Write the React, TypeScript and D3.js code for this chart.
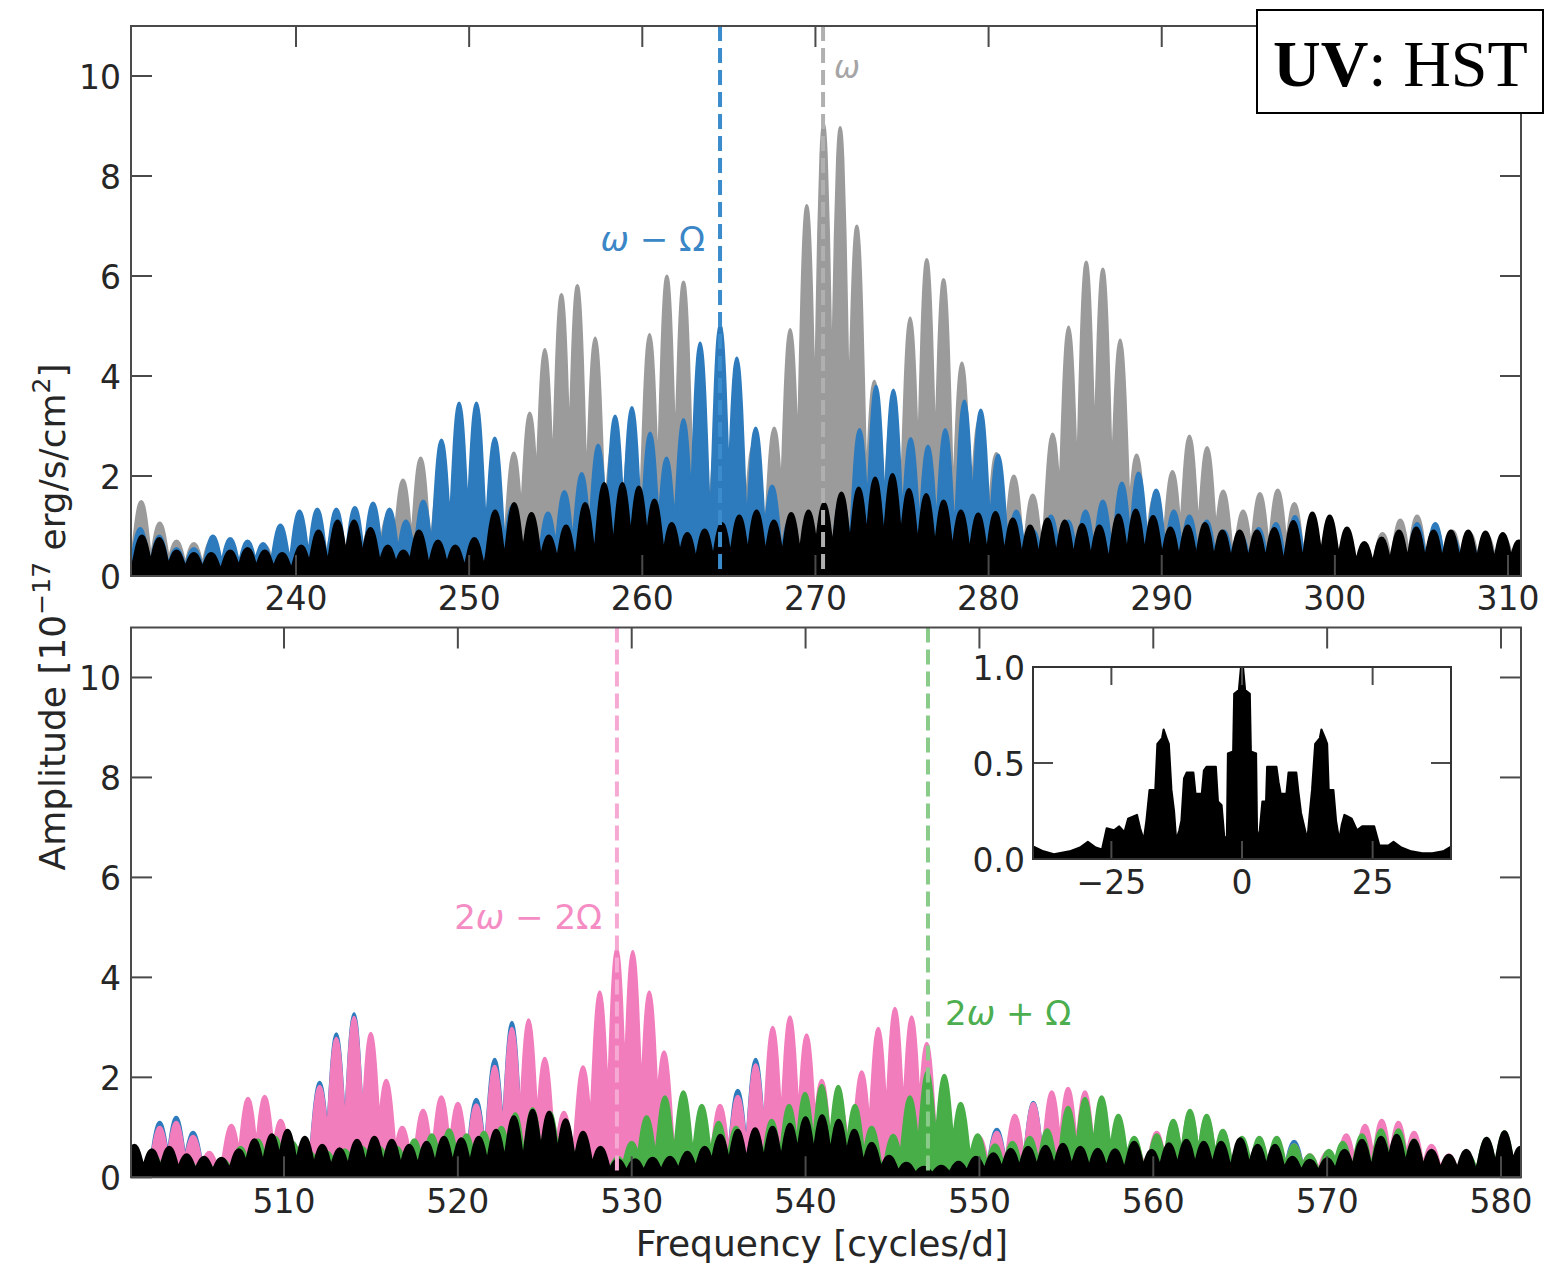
import React from "react";
import * as d3 from "d3";

type Pt = [number, number];

// ---------------- tick values ----------------
const TOP_X_TICKS = [240, 250, 260, 270, 280, 290, 300, 310];
const BOTTOM_X_TICKS = [510, 520, 530, 540, 550, 560, 570, 580];
const Y_TICKS = [0, 2, 4, 6, 8, 10];
const INSET_X_TICKS = [-25, 0, 25];
const INSET_Y_TICKS = [0, 0.5, 1.0];
const INSET_Y_LABELS = ["0.0", "0.5", "1.0"];

// ---------------- marker frequencies ----------------
const F_OMEGA_MINUS_OMEGA = 264.49;
const F_OMEGA = 270.44;
const F_2OMEGA_MINUS_2OMEGA = 529.15;
const F_2OMEGA_PLUS_OMEGA = 547.04;

// ---------------- top panel fringe peaks [freq, amplitude] ----------------
const topGray: Pt[] = [
  [231.06, 1.49], [232.13, 1.06], [233.1, 0.7], [234.1, 0.65], [235.1, 0.7], [236.2, 0.65], [237.2, 0.6],
  [238.2, 0.6], [239.2, 0.7], [240.2, 0.8], [241.2, 0.85], [242.2, 0.9], [243.3, 0.95], [244.3, 1.0],
  [245.3, 1.2], [246.18, 1.92], [247.2, 2.36], [248.3, 1.9], [249.3, 1.6], [250.3, 1.5], [251.4, 1.9],
  [252.58, 2.46], [253.5, 3.26], [254.37, 4.53], [255.33, 5.63], [256.25, 5.81], [257.28, 4.76],
  [258.3, 2.6], [259.35, 2.9], [260.42, 4.83], [261.42, 6.0], [262.38, 5.88], [263.35, 3.9],
  [264.35, 2.9], [265.35, 2.5], [266.4, 2.6], [267.62, 2.96], [268.54, 4.93], [269.5, 7.41],
  [270.47, 9.04], [271.43, 8.97], [272.39, 7.0], [273.4, 3.9], [274.45, 3.3], [275.47, 5.16],
  [276.43, 6.33], [277.4, 5.93], [278.46, 4.26], [279.45, 3.1], [280.45, 2.45], [281.46, 2.0],
  [282.55, 1.62], [283.7, 2.84], [284.62, 4.98], [285.64, 6.28], [286.6, 6.14], [287.6, 4.72],
  [288.55, 2.42], [289.6, 1.6], [290.62, 2.09], [291.6, 2.8], [292.62, 2.57], [293.55, 1.7],
  [294.7, 1.3], [295.67, 1.65], [296.7, 1.72], [297.66, 1.45], [298.7, 1.1], [299.7, 0.9],
  [300.7, 0.75], [301.7, 0.6], [302.75, 0.85], [303.78, 1.12], [304.75, 1.2], [305.8, 1.0],
  [306.8, 0.9], [307.8, 0.85], [308.8, 0.8], [309.8, 0.75], [310.7, 0.7],
];

const topBlue: Pt[] = [
  [231.0, 0.95], [232.1, 0.8], [233.1, 0.55], [234.1, 0.55], [235.2, 0.8], [236.2, 0.75], [237.2, 0.7],
  [238.1, 0.65], [239.1, 1.02], [240.2, 1.3], [241.23, 1.34], [242.33, 1.34], [243.4, 1.37],
  [244.45, 1.46], [245.4, 1.34], [246.35, 1.1], [247.35, 1.5], [248.4, 2.72], [249.42, 3.46],
  [250.42, 3.46], [251.48, 2.76], [252.5, 1.4], [253.5, 0.9], [254.55, 1.26], [255.5, 1.69],
  [256.5, 2.05], [257.45, 2.62], [258.43, 3.2], [259.4, 3.37], [260.45, 2.86], [261.4, 2.36],
  [262.38, 3.13], [263.34, 4.66], [264.5, 5.03], [265.46, 4.36], [266.55, 2.96], [267.5, 1.8],
  [268.5, 1.1], [269.5, 0.7], [270.5, 0.9], [271.5, 1.6], [272.55, 2.93], [273.5, 3.8],
  [274.5, 3.72], [275.5, 2.75], [276.5, 2.6], [277.5, 2.93], [278.6, 3.5], [279.55, 3.32],
  [280.55, 2.42], [281.6, 1.3], [282.6, 0.9], [283.6, 1.2], [284.6, 1.1], [285.6, 1.3], [286.6, 1.5],
  [287.7, 1.86], [288.66, 2.06], [289.68, 1.72], [290.7, 1.3], [291.6, 1.2], [292.6, 1.1],
  [293.6, 0.9], [294.6, 0.8], [295.6, 0.95], [296.6, 1.05], [297.7, 1.19], [298.7, 0.8],
  [299.7, 0.6], [300.7, 0.5], [301.7, 0.5], [302.7, 0.6], [303.7, 0.8], [304.75, 1.05],
  [305.8, 1.05], [306.8, 0.8], [307.8, 0.7], [308.8, 0.65], [309.8, 0.6], [310.7, 0.7],
];

const topBlack: Pt[] = [
  [231.1, 0.8], [232.1, 0.75], [233.1, 0.5], [234.1, 0.45], [235.1, 0.45], [236.2, 0.5], [237.2, 0.55],
  [238.2, 0.5], [239.2, 0.45], [240.3, 0.6], [241.3, 0.9], [242.4, 1.1], [243.35, 1.1], [244.3, 0.95],
  [245.3, 0.6], [246.2, 0.5], [247.1, 0.9], [248.2, 0.7], [249.2, 0.6], [250.3, 0.75], [251.5, 1.3],
  [252.6, 1.45], [253.6, 1.25], [254.6, 0.8], [255.6, 1.0], [256.7, 1.45], [257.8, 1.85],
  [258.85, 1.85], [259.8, 1.78], [260.7, 1.52], [261.7, 1.05], [262.6, 0.85], [263.6, 0.92],
  [264.6, 1.05], [265.6, 1.2], [266.6, 1.3], [267.6, 1.1], [268.6, 1.25], [269.6, 1.3], [270.5, 1.45],
  [271.5, 1.66], [272.5, 1.76], [273.45, 1.96], [274.45, 2.03], [275.4, 1.73], [276.4, 1.63],
  [277.4, 1.5], [278.4, 1.3], [279.4, 1.24], [280.4, 1.27], [281.4, 1.14], [282.4, 1.0],
  [283.4, 1.14], [284.4, 1.1], [285.4, 1.03], [286.4, 1.0], [287.5, 1.22], [288.5, 1.32],
  [289.5, 1.19], [290.5, 0.96], [291.5, 1.0], [292.5, 1.05], [293.5, 0.9], [294.5, 0.9],
  [295.5, 0.9], [296.5, 0.95], [297.6, 1.09], [298.7, 1.26], [299.7, 1.2], [300.7, 0.96],
  [301.7, 0.67], [302.7, 0.76], [303.7, 0.9], [304.7, 0.96], [305.7, 0.9], [306.7, 0.9],
  [307.7, 0.9], [308.7, 0.88], [309.7, 0.85], [310.6, 0.7],
];

// ---------------- bottom panel fringe peaks [freq, amplitude] ----------------
const bottomBlue: Pt[] = [
  [502.85, 1.1], [503.8, 1.2], [504.77, 0.9], [512.05, 1.9], [513.01, 2.87], [514.03, 3.27],
  [521.06, 1.56], [522.12, 2.36], [523.11, 3.1], [536.1, 1.74], [537.13, 2.36], [551.0, 0.96],
  [553.1, 1.5], [568.1, 0.72],
];

const bottomPink: Pt[] = [
  [501.5, 0.45], [502.85, 1.0], [503.8, 1.1], [504.77, 0.82], [505.7, 0.5], [506.97, 1.04],
  [507.93, 1.58], [508.89, 1.62], [509.81, 1.14], [510.8, 0.6], [512.05, 1.82], [513.01, 2.78],
  [514.03, 3.2], [514.99, 2.88], [515.88, 1.94], [516.8, 1.0], [518.0, 1.34], [519.05, 1.61],
  [520.0, 1.48], [521.06, 1.45], [522.12, 2.22], [523.11, 2.98], [524.07, 3.15], [525.0, 2.38],
  [526.1, 1.3], [527.2, 2.21], [528.16, 3.71], [529.14, 4.58], [530.06, 4.52], [531.01, 3.71],
  [531.86, 2.51], [532.9, 1.2], [534.0, 0.9], [535.08, 1.44], [536.1, 1.62], [537.13, 2.25],
  [538.11, 3.0], [539.1, 3.21], [540.06, 2.85], [540.93, 1.94], [542.0, 1.4], [543.23, 2.11],
  [544.18, 2.98], [545.14, 3.38], [546.1, 3.21], [546.97, 2.68], [548.0, 1.3], [549.0, 0.9],
  [550.0, 0.8], [551.0, 0.9], [552.04, 1.24], [553.1, 1.48], [554.16, 1.71], [555.1, 1.78],
  [556.07, 1.71], [557.0, 1.3], [558.0, 0.9], [559.0, 0.6], [560.2, 0.9], [561.15, 1.1],
  [562.11, 1.3], [563.07, 1.2], [564.0, 0.9], [565.1, 0.75], [566.1, 0.75], [567.1, 0.75],
  [568.1, 0.65], [569.0, 0.45], [570.0, 0.5], [571.1, 0.85], [572.18, 1.04], [573.14, 1.14],
  [574.1, 1.1], [575.0, 0.9], [576.0, 0.64], [577.0, 0.45], [578.1, 0.4], [579.2, 0.6],
  [580.2, 0.7], [581.1, 0.5],
];

const bottomGreen: Pt[] = [
  [501.4, 0.5], [502.5, 0.45], [503.5, 0.4], [504.5, 0.35], [505.5, 0.3], [506.5, 0.35], [507.5, 0.6],
  [508.5, 0.75], [509.5, 0.8], [510.5, 0.7], [511.5, 0.5], [512.5, 0.5], [513.5, 0.55], [514.5, 0.6],
  [515.5, 0.6], [516.5, 0.6], [517.5, 0.75], [518.5, 0.85], [519.5, 0.95], [520.5, 0.85],
  [521.5, 0.9], [522.5, 1.0], [523.3, 1.27], [524.3, 1.37], [525.3, 1.3], [526.2, 1.1], [527.2, 0.8],
  [528.2, 0.5], [529.2, 0.4], [530.0, 0.7], [530.86, 1.21], [531.91, 1.61], [532.97, 1.71],
  [534.03, 1.44], [535.0, 1.1], [536.0, 1.0], [537.1, 0.93], [538.05, 1.14], [539.05, 1.44],
  [539.97, 1.68], [540.93, 1.84], [541.88, 1.82], [542.84, 1.44], [543.8, 1.0], [545.04, 0.84],
  [546.0, 1.61], [547.0, 2.11], [547.98, 2.04], [548.92, 1.48], [549.9, 0.85], [550.9, 0.65],
  [551.9, 0.7], [552.9, 0.8], [553.9, 0.95], [555.1, 1.4], [556.07, 1.58], [557.03, 1.61],
  [557.99, 1.24], [558.9, 0.8], [560.2, 0.85], [561.15, 1.14], [562.11, 1.34], [563.07, 1.24],
  [564.0, 0.94], [565.1, 0.8], [566.1, 0.8], [567.1, 0.8], [568.1, 0.65], [569.0, 0.45],
  [570.1, 0.54], [570.9, 0.7], [572.0, 0.85], [573.1, 0.95], [574.1, 0.95], [575.0, 0.75],
  [576.0, 0.5], [577.0, 0.4], [578.1, 0.45], [579.17, 0.78], [580.2, 0.91],
];

const bottomBlack: Pt[] = [
  [501.4, 0.64], [502.4, 0.55], [503.4, 0.6], [504.4, 0.45], [505.4, 0.4], [506.4, 0.38], [507.4, 0.55],
  [508.3, 0.75], [509.3, 0.85], [510.2, 0.94], [511.2, 0.8], [512.2, 0.64], [513.2, 0.57],
  [514.2, 0.74], [515.2, 0.8], [516.2, 0.74], [517.2, 0.64], [518.2, 0.7], [519.2, 0.8], [520.2, 0.77],
  [521.2, 0.8], [522.2, 0.94], [523.22, 1.21], [524.3, 1.34], [525.25, 1.3], [526.2, 1.15],
  [527.2, 0.9], [528.2, 0.6], [529.2, 0.35], [530.2, 0.35], [531.2, 0.38], [532.2, 0.4], [533.2, 0.5],
  [534.2, 0.6], [535.1, 0.84], [536.1, 0.94], [537.1, 0.97], [538.1, 1.0], [539.1, 1.06],
  [540.0, 1.19], [540.95, 1.23], [541.9, 1.14], [542.8, 0.94], [543.8, 0.68], [544.8, 0.42],
  [545.8, 0.28], [546.8, 0.2], [547.8, 0.22], [548.8, 0.3], [549.8, 0.4], [550.8, 0.47],
  [551.8, 0.56], [552.8, 0.6], [553.8, 0.62], [554.8, 0.66], [555.8, 0.6], [556.8, 0.56],
  [557.8, 0.55], [558.9, 0.7], [559.9, 0.54], [560.9, 0.67], [561.9, 0.74], [562.9, 0.7],
  [563.9, 0.7], [565.0, 0.77], [566.0, 0.64], [567.0, 0.64], [568.0, 0.4], [569.0, 0.34],
  [570.0, 0.37], [571.0, 0.54], [572.0, 0.74], [573.1, 0.8], [574.0, 0.84], [575.0, 0.74],
  [576.0, 0.54], [577.0, 0.44], [578.0, 0.54], [579.17, 0.78], [580.2, 0.91], [581.1, 0.6],
];

// ---------------- inset: spectral window outline [freq offset, amplitude] ----------------
const insetWindow: Pt[] = [
  [-40, 0.065], [-38, 0.04], [-36, 0.025], [-33, 0.04], [-31, 0.06], [-29.5, 0.09], [-28, 0.06],
  [-26.8, 0.05], [-25.9, 0.16], [-24.5, 0.15], [-23.5, 0.17], [-22.5, 0.14], [-21.8, 0.21],
  [-20.1, 0.23], [-19.5, 0.16], [-18.8, 0.1], [-18.3, 0.2], [-17.7, 0.36], [-16.6, 0.36],
  [-16.2, 0.6], [-15.3, 0.63], [-15.0, 0.675], [-14.3, 0.62], [-14.0, 0.6], [-13.5, 0.36],
  [-13.0, 0.25], [-12.6, 0.1], [-12.0, 0.15], [-11.6, 0.2], [-11.1, 0.42], [-10.6, 0.45], [-9.3, 0.45],
  [-8.9, 0.34], [-7.7, 0.34], [-7.3, 0.46], [-6.8, 0.48], [-5.0, 0.48], [-4.6, 0.3], [-3.9, 0.28],
  [-3.4, 0.12], [-2.9, 0.1], [-2.7, 0.55], [-1.7, 0.56], [-1.5, 0.86], [-0.6, 0.88], [-0.2, 1.0],
  [0.2, 1.0], [0.6, 0.88], [1.5, 0.86], [1.7, 0.56], [2.7, 0.55], [2.9, 0.1], [3.4, 0.15],
  [3.9, 0.3], [4.6, 0.3], [4.8, 0.48], [6.6, 0.48], [7.0, 0.4], [7.4, 0.34], [8.5, 0.34],
  [8.9, 0.45], [10.4, 0.45], [10.8, 0.35], [11.3, 0.24], [12.5, 0.1], [13.0, 0.25], [13.4, 0.36],
  [14.0, 0.6], [14.9, 0.63], [15.2, 0.675], [15.9, 0.63], [16.3, 0.6], [16.6, 0.36], [17.5, 0.36],
  [18.0, 0.2], [18.6, 0.1], [19.1, 0.18], [19.6, 0.23], [20.3, 0.22], [21, 0.21], [22, 0.15],
  [23.0, 0.17], [23.7, 0.17], [25.3, 0.17], [26.3, 0.07], [28, 0.07], [29, 0.09], [30.5, 0.06],
  [32.4, 0.04], [34.5, 0.03], [36.4, 0.03], [38.5, 0.04], [40, 0.065],
];

// ---------------- styling / layout ----------------
const W = 1547;
const H = 1263;
const LEFT = 131;
const RIGHT = 1521;
const TOP_PANEL = { top: 26, bottom: 576, domain: [230.47, 310.75] as [number, number] };
const BOT_PANEL = { top: 627.5, bottom: 1177.3, domain: [501.2, 581.15] as [number, number] };
const INSET = { left: 1033, right: 1451, top: 667, bottom: 859 };

const COL = {
  gray: "#9b9b9b",
  blue: "#2d7bbd",
  pink: "#f27dbd",
  green: "#48ae48",
  black: "#000000",
  axis: "#4a4a4a",
  text: "#262626",
};

const FONT = "'DejaVu Sans', 'Bitstream Vera Sans', sans-serif";
const TICK_FS = 33;
const LABEL_FS = 36;
const TICK_LEN = 21;

// lobe glyph used to draw one fringe (offset in units of half-width, fraction of peak)
const LOBE_HW = 0.86;
const LOBE_PROFILE: Pt[] = [
  [-1, 0], [-0.78, 0.1], [-0.56, 0.36], [-0.45, 0.56], [-0.33, 0.76], [-0.18, 0.93], [0, 1],
  [0.18, 0.93], [0.33, 0.76], [0.45, 0.56], [0.56, 0.36], [0.78, 0.1], [1, 0],
];

function lobesPath(series: Pt[], x: d3.ScaleLinear<number, number>, y: d3.ScaleLinear<number, number>) {
  const gen = d3.line<Pt>().x((p) => p[0]).y((p) => p[1]).curve(d3.curveMonotoneX);
  return series
    .map(([f, a]) => {
      const pts: Pt[] = LOBE_PROFILE.map(([dx, fr]) => [x(f + dx * LOBE_HW), y(fr * a)]);
      return (gen(pts) || "") + "Z";
    })
    .join("");
}

function Series({ data, x, y, color }: { data: Pt[]; x: any; y: any; color: string }) {
  return (
    <path
      d={lobesPath(data, x, y)}
      fill={color}
      stroke={color}
      strokeWidth={3}
      strokeLinejoin="round"
    />
  );
}

function Frame({
  x,
  y,
  top,
  bottom,
  xTicks,
  labelY,
}: {
  x: any;
  y: any;
  top: number;
  bottom: number;
  xTicks: number[];
  labelY: number;
}) {
  return (
    <g>
      {xTicks.map((t) => (
        <g key={"xt" + t}>
          <line x1={x(t)} x2={x(t)} y1={top} y2={top + TICK_LEN} stroke={COL.axis} strokeWidth={2} />
          <line x1={x(t)} x2={x(t)} y1={bottom} y2={bottom - TICK_LEN} stroke={COL.axis} strokeWidth={2} />
          <text x={x(t)} y={labelY} textAnchor="middle" fontSize={TICK_FS} fill={COL.text} fontFamily={FONT}>
            {t}
          </text>
        </g>
      ))}
      {Y_TICKS.map((t) => (
        <g key={"yt" + t}>
          <line x1={LEFT} x2={LEFT + TICK_LEN} y1={y(t)} y2={y(t)} stroke={COL.axis} strokeWidth={2} />
          <line x1={RIGHT} x2={RIGHT - TICK_LEN} y1={y(t)} y2={y(t)} stroke={COL.axis} strokeWidth={2} />
          <text x={121} y={y(t) + 13} textAnchor="end" fontSize={TICK_FS} fill={COL.text} fontFamily={FONT}>
            {t}
          </text>
        </g>
      ))}
      <rect x={LEFT} y={top} width={RIGHT - LEFT} height={bottom - top} fill="none" stroke={COL.axis} strokeWidth={2} />
    </g>
  );
}

export default function App() {
  const xTop = d3.scaleLinear().domain(TOP_PANEL.domain).range([LEFT, RIGHT]);
  const yTop = d3.scaleLinear().domain([0, 11]).range([TOP_PANEL.bottom, TOP_PANEL.top]);
  const xBot = d3.scaleLinear().domain(BOT_PANEL.domain).range([LEFT, RIGHT]);
  const yBot = d3.scaleLinear().domain([0, 11]).range([BOT_PANEL.bottom, BOT_PANEL.top]);
  const xIn = d3.scaleLinear().domain([-40, 40]).range([INSET.left, INSET.right]);
  const yIn = d3.scaleLinear().domain([0, 1]).range([INSET.bottom, INSET.top]);

  const insetArea = d3
    .area<Pt>()
    .x((p) => xIn(p[0]))
    .y0(yIn(0))
    .y1((p) => yIn(p[1]))
    .curve(d3.curveLinear)(insetWindow) || "";

  const dash = "15 7";

  return (
    <svg
      width={W}
      height={H}
      viewBox={`0 0 ${W} ${H}`}
      style={{ position: "absolute", left: 0, top: 0, display: "block", background: "#fff" }}
      fontFamily={FONT}
    >
      <defs>
        <clipPath id="clipTop">
          <rect x={LEFT} y={TOP_PANEL.top} width={RIGHT - LEFT} height={TOP_PANEL.bottom - TOP_PANEL.top} />
        </clipPath>
        <clipPath id="clipBot">
          <rect x={LEFT} y={BOT_PANEL.top} width={RIGHT - LEFT} height={BOT_PANEL.bottom - BOT_PANEL.top} />
        </clipPath>
        <clipPath id="clipIn">
          <rect x={INSET.left} y={INSET.top} width={INSET.right - INSET.left} height={INSET.bottom - INSET.top} />
        </clipPath>
      </defs>
      <rect x={0} y={0} width={W} height={H} fill="#fff" />

      {/* ---------------- top panel ---------------- */}
      <g clipPath="url(#clipTop)">
        <Series data={topGray} x={xTop} y={yTop} color={COL.gray} />
        <Series data={topBlue} x={xTop} y={yTop} color={COL.blue} />
        <Series data={topBlack} x={xTop} y={yTop} color={COL.black} />
        <line
          x1={xTop(F_OMEGA_MINUS_OMEGA)} x2={xTop(F_OMEGA_MINUS_OMEGA)}
          y1={TOP_PANEL.top} y2={TOP_PANEL.bottom}
          stroke="#3a8ccc" strokeWidth={4} strokeDasharray={dash}
        />
        <line
          x1={xTop(F_OMEGA)} x2={xTop(F_OMEGA)}
          y1={TOP_PANEL.top} y2={TOP_PANEL.bottom}
          stroke="#b0b0b0" strokeWidth={4} strokeDasharray={dash}
        />
      </g>
      <Frame x={xTop} y={yTop} top={TOP_PANEL.top} bottom={TOP_PANEL.bottom} xTicks={TOP_X_TICKS} labelY={610} />
      <text x={705} y={251} textAnchor="end" fontSize={34} fill="#3a86c6">
        <tspan fontStyle="italic">ω</tspan> − Ω
      </text>
      <text x={834} y={78} fontSize={31} fill="#a5a5a5" fontStyle="italic">
        ω
      </text>

      {/* ---------------- bottom panel ---------------- */}
      <g clipPath="url(#clipBot)">
        <Series data={bottomBlue} x={xBot} y={yBot} color={COL.blue} />
        <Series data={bottomPink} x={xBot} y={yBot} color={COL.pink} />
        <Series data={bottomGreen} x={xBot} y={yBot} color={COL.green} />
        <Series data={bottomBlack} x={xBot} y={yBot} color={COL.black} />
        <line
          x1={xBot(F_2OMEGA_MINUS_2OMEGA)} x2={xBot(F_2OMEGA_MINUS_2OMEGA)}
          y1={BOT_PANEL.top} y2={BOT_PANEL.bottom}
          stroke="#f6a9d2" strokeWidth={4} strokeDasharray={dash}
        />
        <line
          x1={xBot(F_2OMEGA_PLUS_OMEGA)} x2={xBot(F_2OMEGA_PLUS_OMEGA)}
          y1={BOT_PANEL.top} y2={BOT_PANEL.bottom}
          stroke="#8acb8a" strokeWidth={4} strokeDasharray={dash}
        />
      </g>
      <Frame x={xBot} y={yBot} top={BOT_PANEL.top} bottom={BOT_PANEL.bottom} xTicks={BOTTOM_X_TICKS} labelY={1213} />
      <text x={602} y={929} textAnchor="end" fontSize={34} fill="#f58cc4">
        2<tspan fontStyle="italic">ω</tspan> − 2Ω
      </text>
      <text x={945} y={1025} fontSize={34} fill="#4cae4f">
        2<tspan fontStyle="italic">ω</tspan> + Ω
      </text>

      {/* ---------------- inset ---------------- */}
      <rect x={INSET.left} y={INSET.top} width={INSET.right - INSET.left} height={INSET.bottom - INSET.top} fill="#fff" />
      <g clipPath="url(#clipIn)">
        <path d={insetArea} fill="#000" stroke="#000" strokeWidth={2} strokeLinejoin="round" />
      </g>
      {INSET_X_TICKS.map((t) => (
        <g key={"ixt" + t}>
          <line x1={xIn(t)} x2={xIn(t)} y1={INSET.top} y2={INSET.top + 18} stroke={COL.axis} strokeWidth={2} />
          <line x1={xIn(t)} x2={xIn(t)} y1={INSET.bottom} y2={INSET.bottom - 18} stroke={COL.axis} strokeWidth={2} />
          <text x={xIn(t)} y={894} textAnchor="middle" fontSize={TICK_FS} fill={COL.text}>
            {t < 0 ? "−" + Math.abs(t) : String(t)}
          </text>
        </g>
      ))}
      {INSET_Y_TICKS.map((t, i) => (
        <g key={"iyt" + t}>
          <line x1={INSET.left} x2={INSET.left + 20} y1={yIn(t)} y2={yIn(t)} stroke={COL.axis} strokeWidth={2} />
          <line x1={INSET.right} x2={INSET.right - 20} y1={yIn(t)} y2={yIn(t)} stroke={COL.axis} strokeWidth={2} />
          <text x={1025} y={yIn(t) + 13} textAnchor="end" fontSize={TICK_FS} fill={COL.text}>
            {INSET_Y_LABELS[i]}
          </text>
        </g>
      ))}
      <rect
        x={INSET.left} y={INSET.top} width={INSET.right - INSET.left} height={INSET.bottom - INSET.top}
        fill="none" stroke="#333" strokeWidth={2}
      />

      {/* ---------------- axis labels ---------------- */}
      <text transform="translate(65,617) rotate(-90)" textAnchor="middle" fontSize={LABEL_FS} fill={COL.text}>
        Amplitude [10
        <tspan fontSize={25} dy={-15}>−17</tspan>
        <tspan dy={15}> erg/s/cm</tspan>
        <tspan fontSize={25} dy={-15}>2</tspan>
        <tspan dy={15}>]</tspan>
      </text>
      <text x={822} y={1256} textAnchor="middle" fontSize={LABEL_FS} fill={COL.text}>
        Frequency [cycles/d]
      </text>

      {/* ---------------- UV: HST box ---------------- */}
      <rect x={1257} y={10} width={286} height={103} fill="#fff" stroke="#000" strokeWidth={2} />
      <text x={1273} y={86} fontSize={66} fill="#000" fontFamily="'Liberation Serif', 'Times New Roman', serif">
        <tspan fontWeight="bold">UV</tspan>: HST
      </text>
    </svg>
  );
}
